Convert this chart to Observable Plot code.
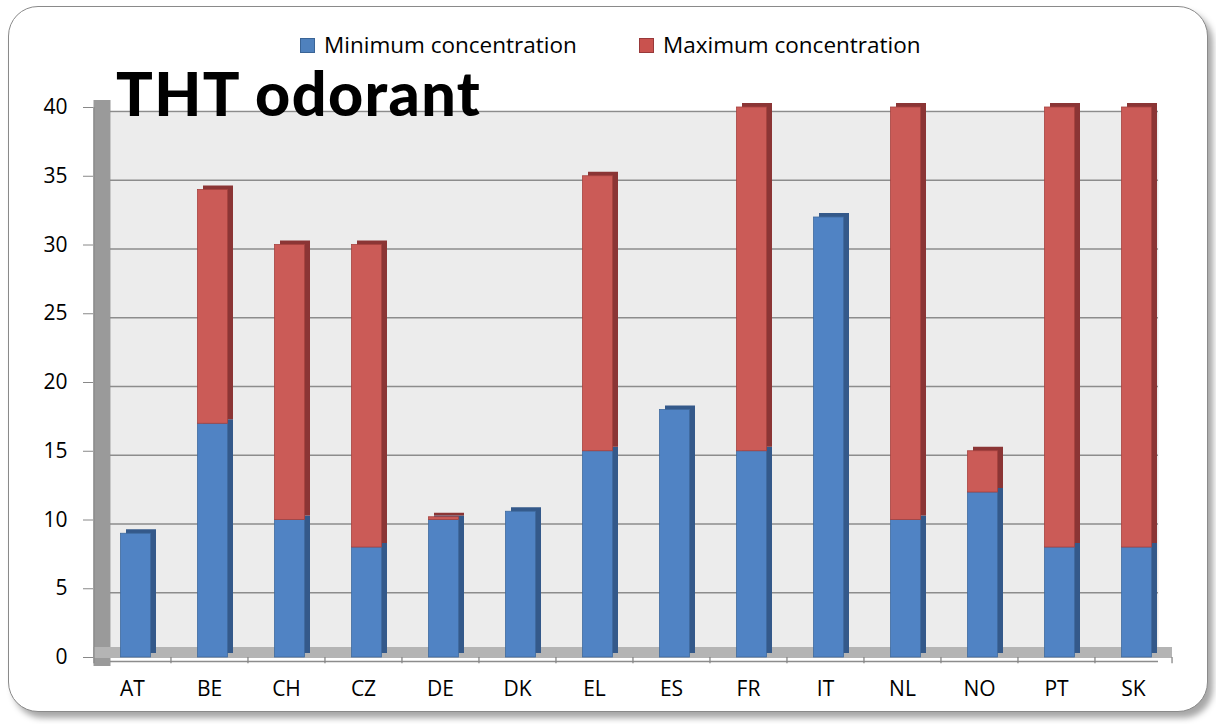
<!DOCTYPE html>
<html><head><meta charset="utf-8">
<script src="https://cdn.jsdelivr.net/npm/d3@7"></script>
<script src="https://cdn.jsdelivr.net/npm/@observablehq/plot@0.6"></script>
<style>
body{margin:0;background:#fff;font-family:"Open Sans",sans-serif;}
#wrap{position:relative;width:1216px;height:724px;overflow:hidden;}
#frame{position:absolute;left:8px;top:6px;width:1198px;height:704px;border:1.5px solid #8a8a8a;border-radius:30px;box-shadow:5px 6px 6px rgba(0,0,0,0.35);background:#fff;}
#title{position:absolute;left:116px;top:62px;font-family:"Lato",sans-serif;font-weight:900;font-size:61px;line-height:1;color:#000;letter-spacing:1.4px;white-space:nowrap;}
#legend{position:absolute;top:29px;left:0;width:1216px;height:32px;font-size:22.5px;line-height:32px;color:#000;}
.li{position:absolute;top:0;display:flex;align-items:center;white-space:nowrap;}
.sw{width:15px;height:15px;margin-right:9px;box-sizing:border-box;}
#chart{position:absolute;left:0;top:0;}
</style></head>
<body>
<div id="wrap">
  <div id="frame"></div>
  <div id="chart"></div>
  <div id="title">THT odorant</div>
  <div id="legend">
    <div class="li" style="left:300px"><div class="sw" style="background:#4f81bd;border:1px solid #3a6496"></div>Minimum concentration</div>
    <div class="li" style="left:639px"><div class="sw" style="background:#c9524e;border:1px solid #98393a"></div>Maximum concentration</div>
  </div>
</div>
<script>
const countries = ["AT","BE","CH","CZ","DE","DK","EL","ES","FR","IT","NL","NO","PT","SK"];
const minConc = [9, 17, 10, 8, 10, 10.6, 15, 18, 15, 32, 10, 12, 8, 8];
const maxConc = [null, 34, 30, 30, 10.2, null, 35, null, 40, null, 40, 15, 40, 40];
const yTicks = [0,5,10,15,20,25,30,35,40];

const minData = countries.map((c,i)=>({c, y1:0, y2:minConc[i]}));
const maxData = countries.map((c,i)=>({c, y1:minConc[i], y2:maxConc[i]})).filter(d=>d.y2!=null);

const W = 1216, H = 724, ML = 93, MR = 44, MT = 107, MB = 67;
const bw = (W - ML - MR) / countries.length;
const PAD = 0.61;

const blue = "#5083c4", blueSide = "#34598a", blueEdge = "#3f6a9e";
const red = "#cb5b57", redSide = "#8b3535", redEdge = "#a7423f";

const chart = Plot.plot({
  width: W, height: H,
  marginLeft: ML, marginRight: MR, marginTop: MT, marginBottom: MB,
  style: {fontFamily: "Open Sans, sans-serif", fontSize: "21px", color: "#000", background: "transparent", overflow: "visible"},
  x: {domain: countries, paddingInner: PAD, paddingOuter: PAD/2, align: 0.5, label: null},
  y: {domain: [0, 40], label: null},
  marks: [
    Plot.frame({fill: "#ececec", stroke: null, insetLeft: 17, insetTop: 5, insetRight: 14, insetBottom: 8}),
    Plot.frame({anchor: "left", stroke: "#9a9a9a", strokeWidth: 17, dx: 8.5, insetTop: 1}),
    Plot.ruleY(yTicks, {stroke: "#8c8c8c", strokeWidth: 1.6, insetLeft: 17, insetRight: 14, dy: 4}),
    Plot.ruleY([0], {stroke: "#b4b4b4", strokeWidth: 11, dy: -5, insetRight: 0}),
    // side faces (3D depth)
    Plot.barY(minData, {x: "c", y1: "y1", y2: "y2", fill: blueSide, dx: 9, dy: -4}),
    Plot.barY(maxData, {x: "c", y1: "y1", y2: "y2", fill: redSide, dx: 9, dy: -4}),
    // front faces
    Plot.barY(minData, {x: "c", y1: "y1", y2: "y2", fill: blue, dx: 3.5, stroke: blueEdge, strokeWidth: 0.8}),
    Plot.barY(maxData, {x: "c", y1: "y1", y2: "y2", fill: red, dx: 3.5, stroke: redEdge, strokeWidth: 0.8}),
    // category boundary ticks
    Plot.ruleX(countries, {x: d => d, y1: 0, y2: -0.45, stroke: "#888", strokeWidth: 1.3, dx: -bw/2}),
    Plot.ruleX([countries[countries.length-1]], {x: d => d, y1: 0, y2: -0.45, stroke: "#888", strokeWidth: 1.3, dx: bw/2}),
    Plot.axisY({ticks: yTicks, tickSize: 10, tickPadding: 16, stroke: "#888", label: null}),
    Plot.ruleX([countries[0]], {x: d=>d, y1: 0, y2: 40, stroke: "#888", strokeWidth: 1.2, dx: -bw/2}),
    Plot.axisX({tickSize: 0, tickPadding: 24, label: null})
  ]
});
document.getElementById("chart").appendChild(chart);
</script>
</body></html>
